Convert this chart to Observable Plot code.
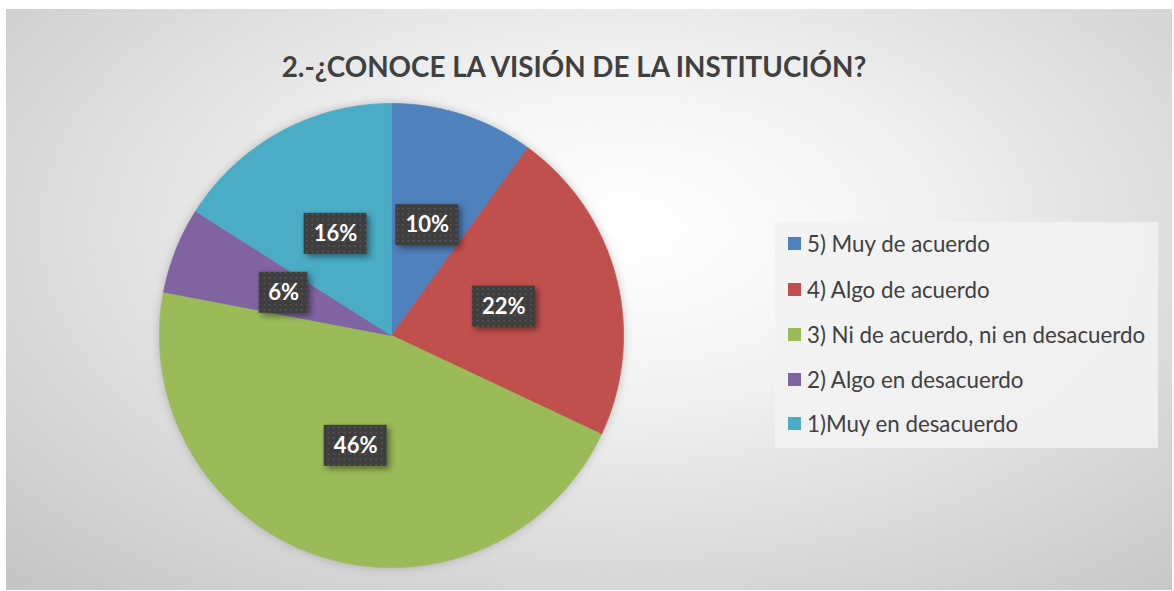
<!DOCTYPE html>
<html><head><meta charset="utf-8">
<script src="https://cdn.jsdelivr.net/npm/d3@7"></script>
<script src="https://cdn.jsdelivr.net/npm/@observablehq/plot@0.6"></script>
<style>
body{margin:0;background:#fff;width:1174px;height:591px;overflow:hidden;font-family:Lato,"Open Sans",sans-serif}
#frame{position:absolute;left:6px;top:9px;width:1166px;height:581px;background:radial-gradient(ellipse 75% 85% at 53% 38%, #ffffff 0%, #f5f5f5 28%, #dedede 62%, #c5c5c5 100%);overflow:hidden}
#title{position:absolute;left:0;width:1136px;top:41px;text-align:center;font-weight:700;font-size:27.8px;color:#404040;white-space:nowrap}
#chart{position:absolute;left:0;top:0}
#legend{position:absolute;left:769px;top:213px;width:383px;height:226px;background:rgba(242,242,242,0.85)}
.item{position:absolute;left:13px;height:26px;display:flex;align-items:center;font-size:22.3px;color:#404040;white-space:nowrap}
.sw{width:13px;height:13px;margin-right:6px;flex:none}
.box{filter:drop-shadow(3px 3px 3px rgba(0,0,0,0.45))}
.pie{filter:drop-shadow(0 0 5px rgba(0,0,0,0.2))}
</style></head>
<body>
<div id="frame">
  <div id="title">2.-¿CONOCE LA VISIÓN DE LA INSTITUCIÓN?</div>
  <div id="chart"></div>
  <div id="legend"></div>
</div>
<script>
const categories = ["5) Muy de acuerdo", "4) Algo de acuerdo", "3) Ni de acuerdo, ni en desacuerdo", "2) Algo en desacuerdo", "1)Muy en desacuerdo"];
const values = [10, 22, 46, 6, 16];
const labels = ["10%", "22%", "46%", "6%", "16%"];
const colors = ["#4f81bd", "#c0504d", "#9bbb59", "#8064a2", "#4bacc6"];

const W = 1166, H = 581, R = 232, CX = 385, CY = 326;

const total = d3.sum(values);
let acc = 0;
const slices = values.map((v, i) => {
  const a0 = acc / total * 2 * Math.PI; acc += v;
  const a1 = acc / total * 2 * Math.PI;
  return {cat: categories[i], a0, a1, label: labels[i]};
});
const pts = [];
for (const s of slices) {
  pts.push({cat: s.cat, x: 0, y: 0});
  const n = Math.max(2, Math.ceil((s.a1 - s.a0) / (Math.PI / 360)));
  for (let k = 0; k <= n; k++) {
    const a = s.a0 + (s.a1 - s.a0) * k / n;
    pts.push({cat: s.cat, x: Math.sin(a), y: Math.cos(a)});
  }
  pts.push({cat: s.cat, x: 0, y: 0});
}
const lbl = slices.map(s => {
  const m = (s.a0 + s.a1) / 2;
  const wpx = 21 + 14 * s.label.length;
  return {x: 0.5 * Math.sin(m), y: 0.5 * Math.cos(m), label: s.label, hw: wpx / 2 / R, hh: 20.5 / R};
});

const plot = Plot.plot({
  width: W, height: H, margin: 0,
  style: {background: "transparent", overflow: "visible"},
  x: {domain: [-1, 1], range: [CX - R, CX + R], axis: null},
  y: {domain: [-1, 1], range: [CY + R, CY - R], axis: null},
  color: {domain: categories, range: colors},
  marks: [
    Plot.line(pts, {x: "x", y: "y", z: "cat", fill: "cat", stroke: "cat", strokeWidth: 0.8, curve: "linear", className: "pie"}),
    Plot.rect(lbl, {x1: d => d.x - d.hw, x2: d => d.x + d.hw, y1: d => d.y - d.hh, y2: d => d.y + d.hh, fill: "#404040", className: "box"}),
    Plot.text(lbl, {x: "x", y: "y", text: "label", fill: "white", fontSize: 22, fontWeight: "bold", fontFamily: "Lato"})
  ]
});
const svgNS = "http://www.w3.org/2000/svg";
const defs = document.createElementNS(svgNS, "defs");
defs.innerHTML = '<pattern id="dots" width="5.33" height="5.33" patternUnits="userSpaceOnUse"><rect width="5.33" height="5.33" fill="#3e3e3e"/><rect x="1.8" y="1.8" width="1.6" height="1.6" fill="#585858"/></pattern>';
plot.insertBefore(defs, plot.firstChild);
plot.querySelectorAll(".box rect").forEach(r => r.setAttribute("fill", "url(#dots)"));
document.getElementById("chart").appendChild(plot);

const legend = document.getElementById("legend");
const tops = [8, 54, 99, 144, 188];
categories.forEach((c, i) => {
  const it = document.createElement("div");
  it.className = "item";
  it.style.top = tops[i] + "px";
  it.innerHTML = `<span class="sw" style="background:${colors[i]}"></span><span>${c}</span>`;
  legend.appendChild(it);
});
</script>
</body></html>
